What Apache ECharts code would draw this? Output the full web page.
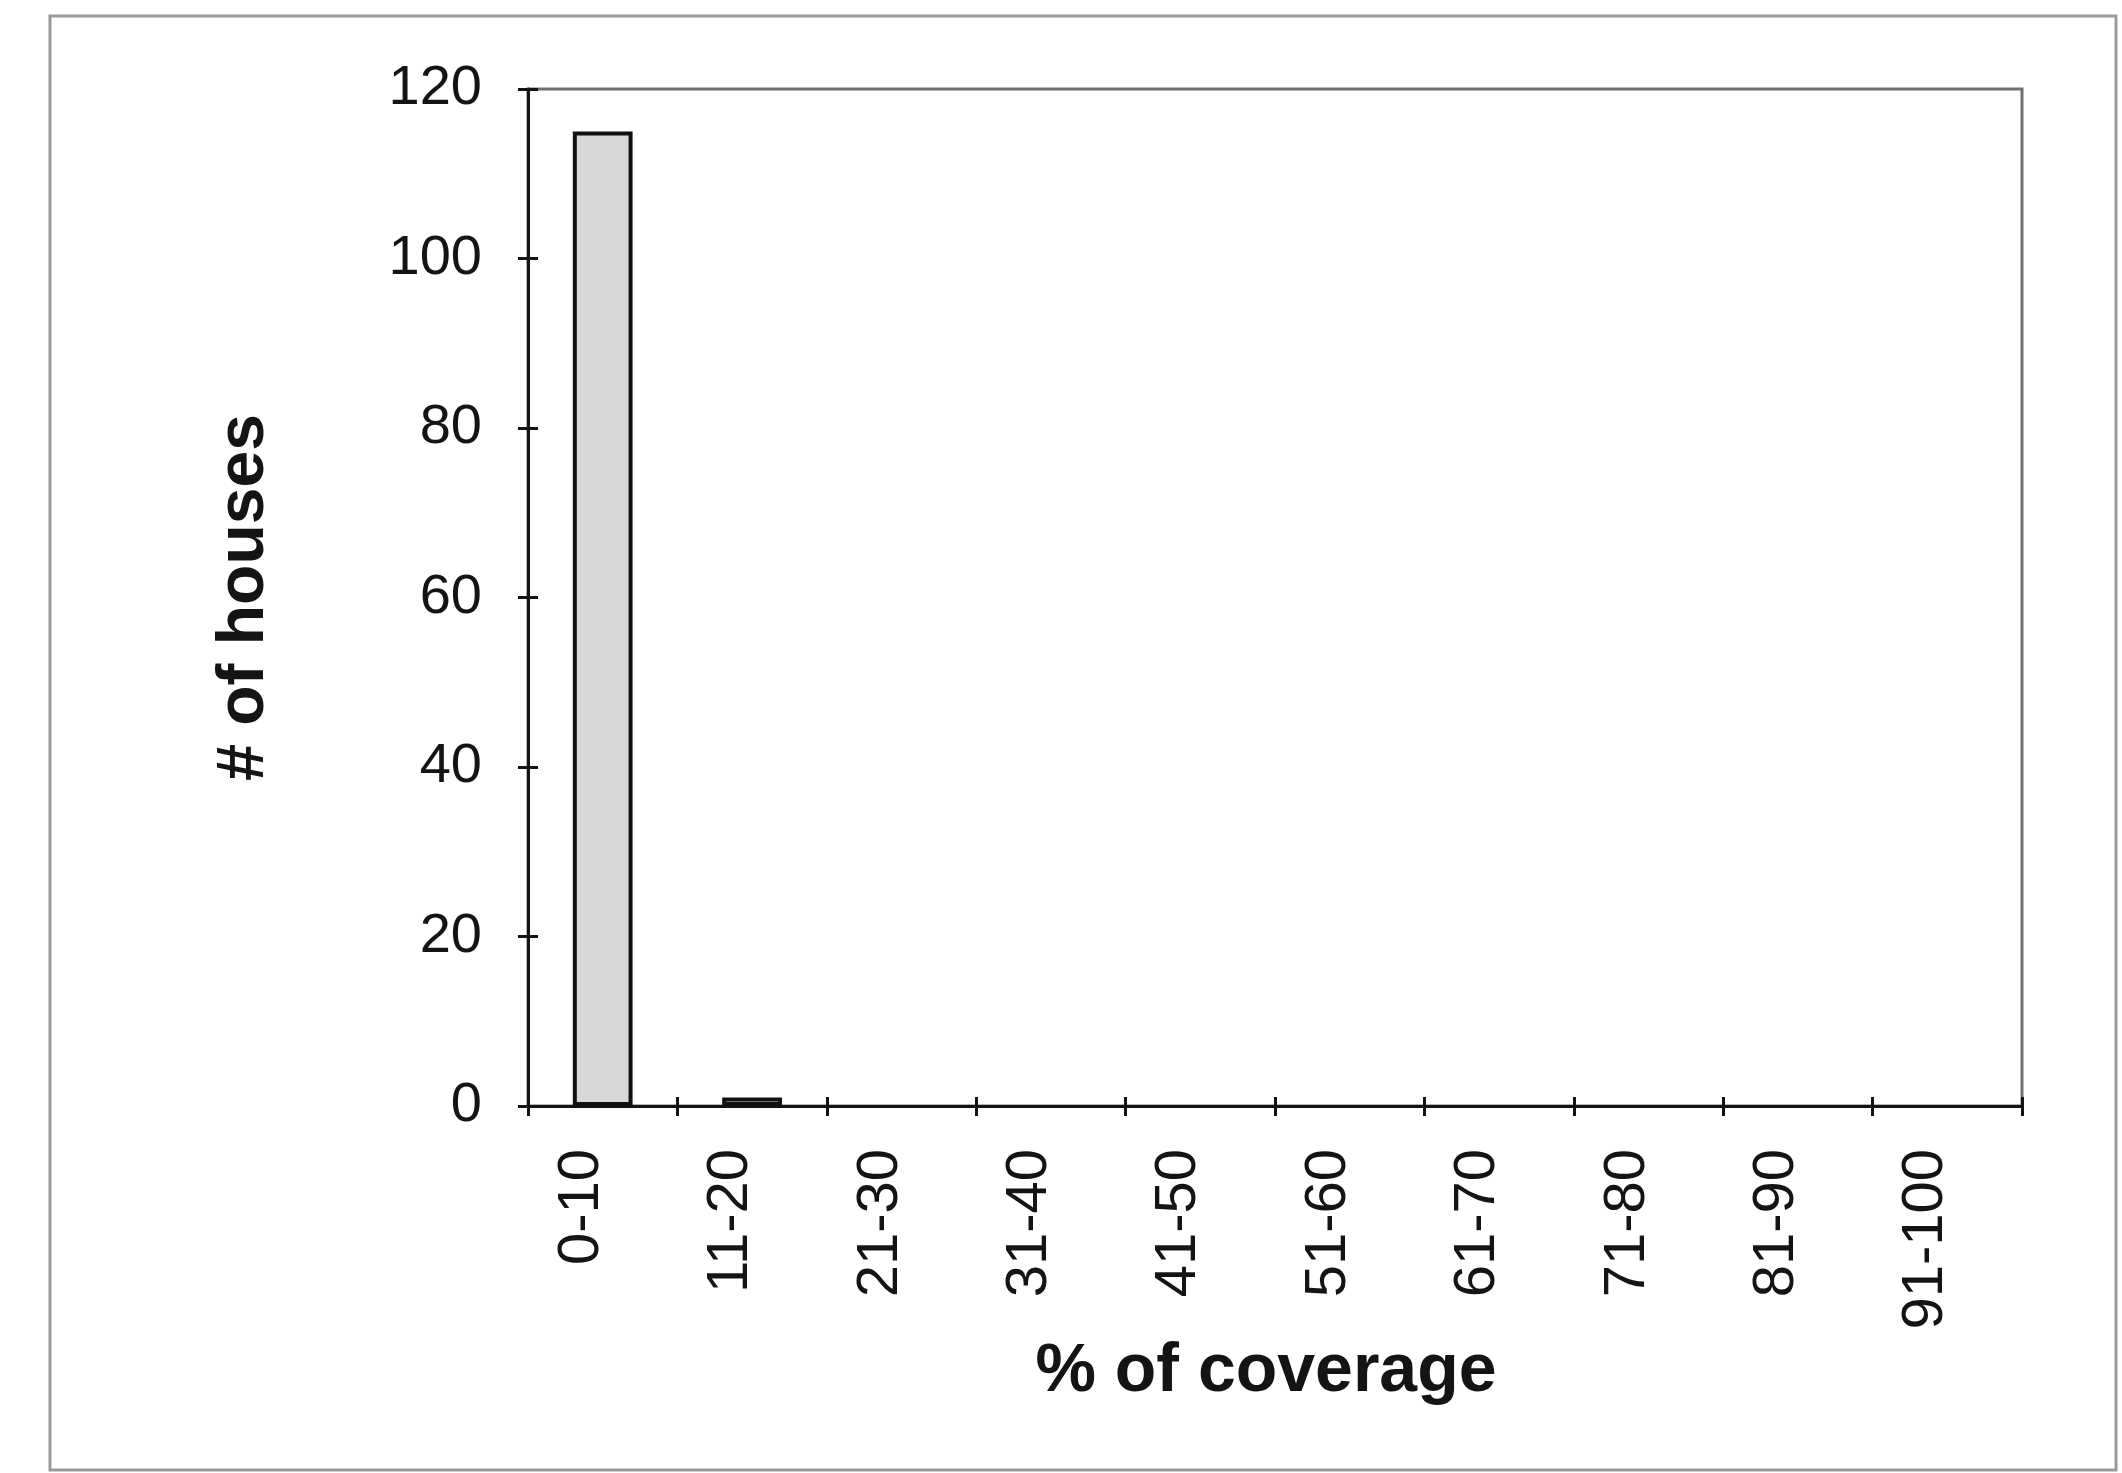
<!DOCTYPE html>
<html>
<head>
<meta charset="utf-8">
<title># of houses by % of coverage</title>
<script src="https://cdn.jsdelivr.net/npm/echarts@6/dist/echarts.min.js"></script>
<style>
  html, body { margin: 0; padding: 0; background: #ffffff; }
  #chart { width: 2122px; height: 1473px; }
</style>
</head>
<body>
<div id="chart"></div>
<script>
// Coverage bins and the number of houses in each
const coverageBins = ['0-10', '11-20', '21-30', '31-40', '41-50', '51-60', '61-70', '71-80', '81-90', '91-100'];
const houseCounts = [115, 1, 0, 0, 0, 0, 0, 0, 0, 0];
const countTicks = [0, 20, 40, 60, 80, 100, 120];

const FONT = '"Liberation Sans", Arial, Helvetica, sans-serif';
const INK = '#141414';

const chart = echarts.init(document.getElementById('chart'), null, { renderer: 'canvas' });

const yMin = countTicks[0];
const yMax = countTicks[countTicks.length - 1];
const yStep = countTicks[1] - countTicks[0];

// Empty bins get no outline so nothing sits on the baseline
const barData = houseCounts.map(v => ({
  value: v,
  itemStyle: v === 0 ? { borderWidth: 0 } : {}
}));

chart.setOption({
  animation: false,
  backgroundColor: '#ffffff',
  graphic: [{
    type: 'rect',
    shape: { x: 50, y: 16, width: 2066, height: 1454 },
    style: { fill: 'none', stroke: '#9a9a9a', lineWidth: 3 },
    z: -10
  }],
  grid: { left: 528, right: 100, top: 89, bottom: 367, show: true, borderColor: '#707070', borderWidth: 3, backgroundColor: 'transparent' },
  xAxis: [{
    type: 'category',
    data: coverageBins,
    boundaryGap: true,
    axisLine: { lineStyle: { color: INK, width: 3 } },
    axisTick: { show: true, inside: false, length: 10, lineStyle: { color: INK, width: 3 } },
    axisLabel: {
      rotate: 90, interval: 0, margin: 43,
      fontFamily: FONT, fontSize: 58, color: INK,
      verticalAlign: 'bottom', lineHeight: 42
    },
    name: '% of coverage',
    nameLocation: 'middle',
    nameGap: 232,
    nameTextStyle: { fontFamily: FONT, fontSize: 68, fontWeight: 'bold', color: INK, padding: [0, 18, 0, 0] }
  }, {
    type: 'category',
    data: coverageBins,
    position: 'bottom',
    boundaryGap: true,
    axisLine: { show: false },
    axisTick: { show: true, inside: true, length: 9, lineStyle: { color: INK, width: 3 } },
    axisLabel: { show: false }
  }],
  yAxis: [{
    type: 'value',
    min: yMin, max: yMax, interval: yStep,
    axisLine: { show: true, lineStyle: { color: INK, width: 3 } },
    axisTick: { show: true, inside: false, length: 10, lineStyle: { color: INK, width: 3 } },
    splitLine: { show: false },
    axisLabel: { margin: 46, fontFamily: FONT, fontSize: 56, color: INK },
    name: '# of houses',
    nameLocation: 'middle',
    nameRotate: 90,
    nameGap: 250,
    nameTextStyle: { fontFamily: FONT, fontSize: 66, fontWeight: 'bold', color: INK }
  }, {
    type: 'value',
    position: 'left',
    min: yMin, max: yMax, interval: yStep,
    axisLine: { show: false },
    axisTick: { show: true, inside: true, length: 10, lineStyle: { color: INK, width: 3 } },
    splitLine: { show: false },
    axisLabel: { show: false }
  }],
  series: [{
    type: 'bar',
    xAxisIndex: 0,
    yAxisIndex: 0,
    data: barData,
    barWidth: '40%',
    itemStyle: { color: '#d8d8d8', borderColor: '#111111', borderWidth: 4 }
  }]
});
</script>
</body>
</html>
